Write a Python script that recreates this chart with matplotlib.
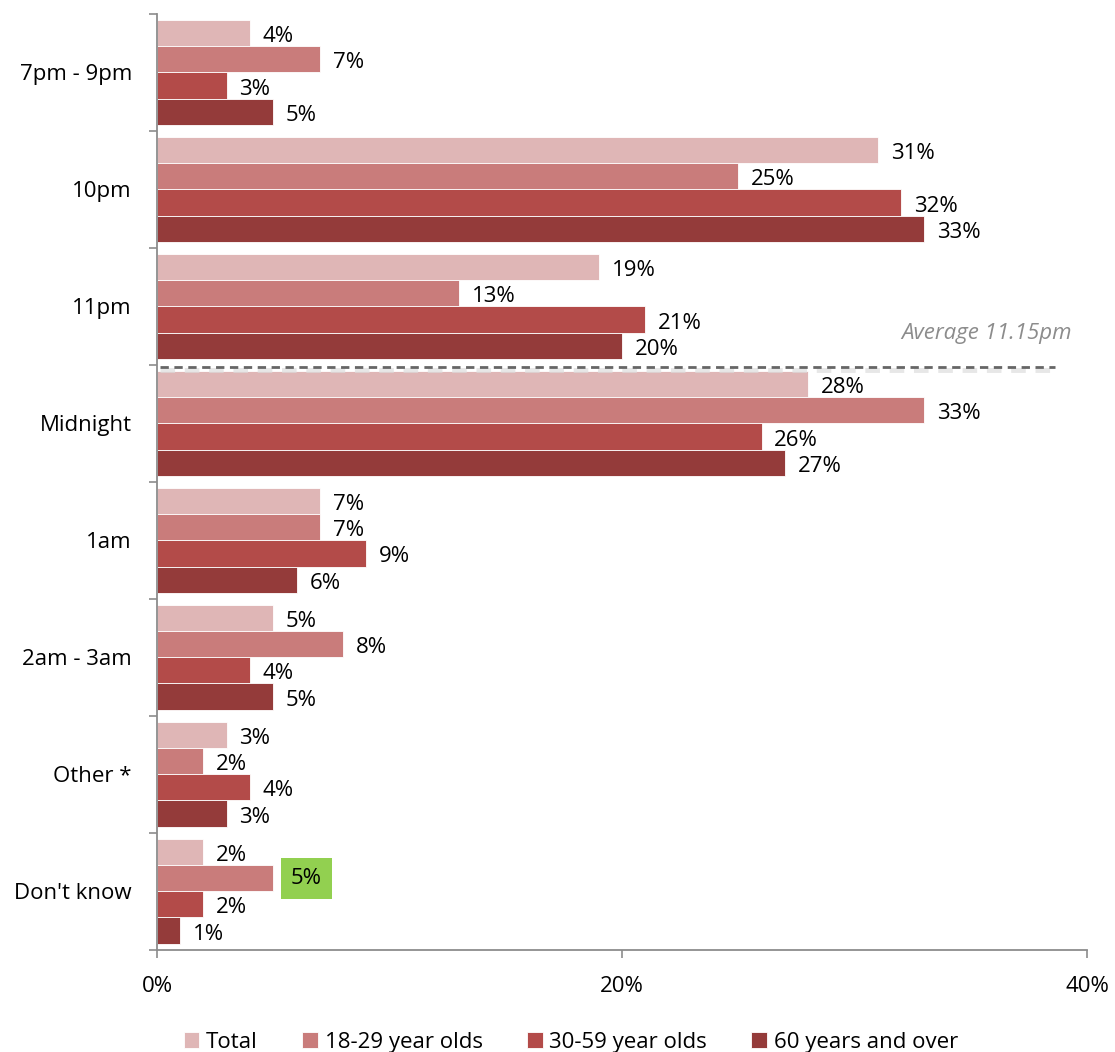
import numpy as np
import matplotlib.pyplot as plt

plt.rcParams['font.family'] = ['Open Sans', 'DejaVu Sans']

# %% data
categories = ['7pm - 9pm', '10pm', '11pm', 'Midnight', '1am', '2am - 3am',
              'Other *', "Don't know"]
series_names = ['Total', '18-29 year olds', '30-59 year olds', '60 years and over']
total = [4, 31, 19, 28, 7, 5, 3, 2]
age_18_29 = [7, 25, 13, 33, 7, 8, 2, 5]
age_30_59 = [3, 32, 21, 26, 9, 4, 4, 2]
age_60_plus = [5, 33, 20, 27, 6, 5, 3, 1]
x_ticks = [0, 20, 40]
x_ticklabels = ['0%', '20%', '40%']
average_label = 'Average 11.15pm'

colors = ['#DFB6B6', '#C97C7B', '#B34B49', '#943B3A']
series = [total, age_18_29, age_30_59, age_60_plus]
fs = 16

# %% figure
fig = plt.figure(figsize=(11.15, 10.52), dpi=100)
ax = fig.add_axes([0.1408, 0.097, 0.975 - 0.1408, 0.9867 - 0.097])

n = len(categories)
y = np.arange(n)
group = 0.89
h = group / 4

for i, (vals, c, name) in enumerate(zip(series, colors, series_names)):
    yy = y - group / 2 + h * (i + 0.5)
    ax.barh(yy, vals, height=h, color=c, edgecolor='white', linewidth=0.6,
            label=name)
    for j, v in enumerate(vals):
        if i == 1 and j == n - 1:
            continue
        ax.text(v + 0.55, yy[j] + 0.03, '{:d}%'.format(v), ha='left',
                va='center', fontsize=fs, color='black')

# highlighted label
v = age_18_29[-1]
yy = y[-1] - group / 2 + h * 1.5
ax.text(v + 0.75, yy, '{:d}%'.format(v), ha='left', va='center', fontsize=fs,
        color='black', zorder=5,
        bbox=dict(boxstyle='square,pad=0.45', facecolor='#92D050',
                  edgecolor='none'))

# average line
ax.plot([0.15, 38.6], [2.545, 2.545], color='#DDDDDD', lw=3.5, ls=(0, (3, 2)),
        zorder=4, alpha=0.7)
ax.plot([0.15, 38.6], [2.52, 2.52], color='#666666', lw=2, ls=(0, (3, 2)),
        zorder=5)
ax.text(39.35, 2.23, average_label, ha='right', va='center', fontsize=fs,
        style='italic', color='#8C8C8C')

# %% axes
ax.set_xlim(0, 40)
ax.set_ylim(n - 0.5, -0.5)
ax.set_xticks(x_ticks)
ax.set_xticklabels(x_ticklabels, fontsize=fs)
ax.set_yticks(y)
ax.set_yticklabels(categories, fontsize=fs)
ax.set_yticks(np.arange(n + 1) - 0.5, minor=True)

ax.tick_params(axis='y', which='major', length=0, pad=18)
ax.tick_params(axis='y', which='minor', length=6, width=1.2, color='#8C8C8C',
               direction='out')
ax.tick_params(axis='x', which='major', length=6, width=1.2, color='#8C8C8C',
               direction='out', pad=13)

for s in ['top', 'right']:
    ax.spines[s].set_visible(False)
for s in ['left', 'bottom']:
    ax.spines[s].set_color('#8C8C8C')
    ax.spines[s].set_linewidth(1.3)

leg = ax.legend(loc='upper center', bbox_to_anchor=(0.445, -0.071), ncol=4,
                frameon=False, fontsize=fs, handlelength=0.7,
                handleheight=0.7, handletextpad=0.3, columnspacing=2.0,
                borderpad=0.2)

fig.savefig('out.png', dpi=100)
